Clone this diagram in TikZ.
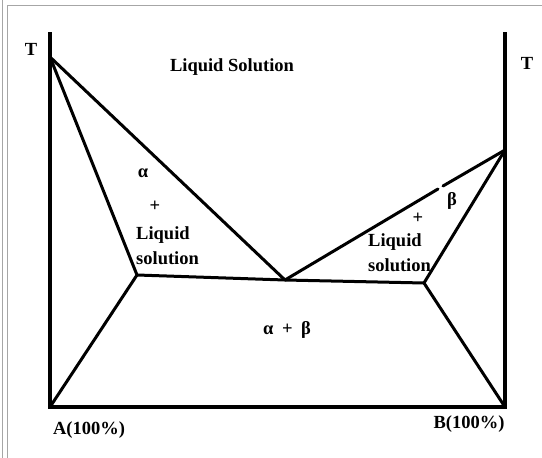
\documentclass[tikz,border=0pt]{standalone}
\usepackage{fontspec}
\setmainfont{Liberation Serif}
\begin{document}
\begin{tikzpicture}[x=1pt,y=-1pt,
  phase/.style={line width=3pt,line cap=round,line join=round},
  axis/.style={line width=3.4pt},
  frame/.style={draw=gray!70,line width=1pt},
  lbl/.style={font=\bfseries\fontsize{18.5}{20}\selectfont,inner sep=0pt,text=black}]
\useasboundingbox (0,0) rectangle (542,458);
\fill[white] (0,0) rectangle (542,458);
% frame
\draw[frame] (2,0) -- (2,458);
\draw[frame] (7,458) -- (7,5) -- (542,5);
% axes
\coordinate (LT) at (50,32);
\coordinate (LB) at (50,407);
\coordinate (RT) at (505,32);
\coordinate (RB) at (505,407);
\draw[axis] (LT) -- (LB) -- (RB) -- (RT);
% phase points
\coordinate (TA) at (50,57);
\coordinate (E) at (285,280);
\coordinate (SA) at (137,275);
\coordinate (SB) at (424,283);
\coordinate (TB) at (505,150);
\coordinate (G1) at (438,189);
\coordinate (G2) at (443,186);
\draw[phase] (TA) -- (E);
\draw[phase] (TA) -- (SA);
\draw[phase] (SA) -- (E) -- (SB);
\draw[phase] (E) -- (G1);
\draw[phase] (G2) -- (TB);
\draw[phase] (TB) -- (SB);
\draw[phase] (SA) -- (LB);
\draw[phase] (SB) -- (RB);
% labels
\node[lbl] (tl) at (31,49) {T};
\node[lbl] (tr) at (527,63) {T};
\node[lbl] (liq) at (232,67) {Liquid Solution};
\node[lbl] (al) at (143,173) {α};
\node[lbl] (pl) at (155,206) {+};
\node[lbl,anchor=base west] (ll1) at (136,239) {Liquid};
\node[lbl,anchor=base west] (ll2) at (136,264) {solution};
\node[lbl] (be) at (452,201) {β};
\node[lbl] (pr) at (418,218) {+};
\node[lbl,anchor=base west] (lr1) at (368,246) {Liquid};
\node[lbl,anchor=base west] (lr2) at (368,271) {solution};
\node[lbl] (ab) at (287,330) {α\hspace{4pt} + \hspace{4pt}β};
\node[lbl] (A) at (89,430) {A(100\%)};
\node[lbl] (B) at (469,424) {B(100\%)};
\end{tikzpicture}
\end{document}
